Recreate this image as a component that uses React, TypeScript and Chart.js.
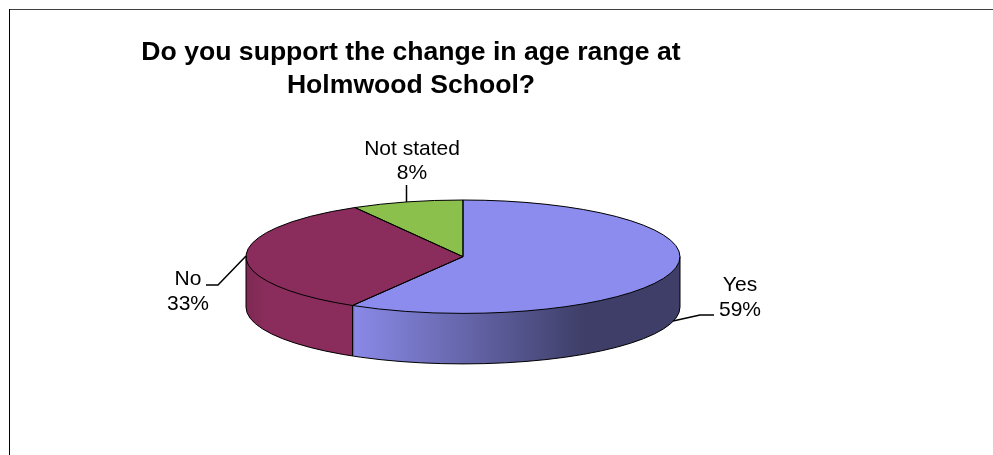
import React, { useEffect, useRef } from "react";
import { Chart, registerables } from "chart.js";

Chart.register(...registerables);

const categories = ["Yes", "No", "Not stated"];
const shares = [58.5, 33.2, 8.3];
const topColors = ["#8C8CEE", "#8A2D5C", "#8AC04B"];
const titleLines = ["Do you support the change in age range at", "Holmwood School?"];

const FONT = "'Liberation Sans', Arial, sans-serif";
const CX = 463;
const CY = 256.7;
const RX = 217;
const RY = 56.7;
const DEPTH = 50.5;

const labelBoxes = [
  { x: 740, y1: 285, y2: 310 },
  { x: 188, y1: 279, y2: 304 },
  { x: 412, y1: 149, y2: 173 },
];
const leaders = [
  [[673, 321], [700, 315], [714, 315]],
  [[246, 256], [218, 285], [206, 285]],
  [[406.5, 202], [406.5, 185]],
];

const pie3d = {
  id: "pie3d",
  beforeDraw(chart: any) {
    const { ctx, width, height } = chart;
    ctx.save();
    ctx.fillStyle = "#ffffff";
    ctx.fillRect(0, 0, width, height);
    ctx.fillStyle = "#404040";
    ctx.fillRect(9, 9, width - 9, 1);
    ctx.fillStyle = "#000000";
    ctx.fillRect(9, 9, 1, height - 9);
    ctx.restore();
  },
  beforeDatasetsDraw(chart: any) {
    const { ctx } = chart;
    const arcs = chart.getDatasetMeta(0).data;
    const { x, y, outerRadius } = arcs[0].getProps(["x", "y", "outerRadius"], true);
    const sx = RX / outerRadius;
    const sy = RY / outerRadius;
    ctx.save();
    ctx.translate(CX, CY);
    ctx.scale(sx, sy);
    ctx.translate(-x, -y);

    const localX = (px: number) => x + (px - CX) / sx;
    const yesWall = ctx.createLinearGradient(localX(353), 0, localX(585), 0);
    yesWall.addColorStop(0, "#8A8AE8");
    yesWall.addColorStop(1, "#3E3E68");
    const noWall = ctx.createLinearGradient(localX(246), 0, localX(266), 0);
    noWall.addColorStop(0, "#7E2953");
    noWall.addColorStop(1, "#8A2D5C");
    const wallFills = [yesWall, noWall, "#6E9A3C"];

    [2, 1, 0].forEach((i) => {
      const arc = arcs[i];
      const saved = arc.options;
      arc.options = { ...saved, backgroundColor: wallFills[i], borderWidth: 0 };
      for (let d = DEPTH; d > 0; d -= 1) {
        ctx.save();
        ctx.translate(0, d / sy);
        arc.draw(ctx);
        ctx.restore();
      }
      arc.options = saved;
    });
  },
  afterDatasetsDraw(chart: any) {
    const { ctx } = chart;
    ctx.restore();
    const arcs = chart.getDatasetMeta(0).data;

    ctx.save();
    ctx.strokeStyle = "#000000";
    ctx.lineWidth = 1;
    ctx.lineJoin = "round";

    // wall outline
    ctx.beginPath();
    ctx.ellipse(CX, CY + DEPTH, RX, RY, 0, 0, Math.PI);
    ctx.moveTo(CX + RX, CY);
    ctx.lineTo(CX + RX, CY + DEPTH);
    ctx.moveTo(CX - RX, CY);
    ctx.lineTo(CX - RX, CY + DEPTH);
    arcs.forEach((arc: any) => {
      const a = arc.getProps(["startAngle"], true).startAngle;
      const n = ((a % (2 * Math.PI)) + 2 * Math.PI) % (2 * Math.PI);
      if (n > 0 && n < Math.PI) {
        const px = CX + RX * Math.cos(n);
        const py = CY + RY * Math.sin(n);
        ctx.moveTo(px, py);
        ctx.lineTo(px, py + DEPTH);
      }
    });
    ctx.stroke();

    // top face outline
    arcs.forEach((arc: any) => {
      const { startAngle, endAngle } = arc.getProps(["startAngle", "endAngle"], true);
      ctx.beginPath();
      ctx.moveTo(CX, CY);
      ctx.ellipse(CX, CY, RX, RY, 0, startAngle, endAngle);
      ctx.closePath();
      ctx.stroke();
    });

    // leader lines
    ctx.lineWidth = 1.5;
    leaders.forEach((pts) => {
      ctx.beginPath();
      pts.forEach(([px, py], k) => (k ? ctx.lineTo(px, py) : ctx.moveTo(px, py)));
      ctx.stroke();
    });

    // labels
    ctx.fillStyle = "#000000";
    ctx.font = `21px ${FONT}`;
    ctx.textAlign = "center";
    ctx.textBaseline = "middle";
    categories.forEach((name, i) => {
      const b = labelBoxes[i];
      ctx.fillText(name, b.x, b.y1);
      ctx.fillText(`${Math.round(shares[i])}%`, b.x, b.y2);
    });
    ctx.restore();
  },
};

export default function App() {
  const ref = useRef<HTMLCanvasElement | null>(null);
  useEffect(() => {
    const chart = new Chart(ref.current as HTMLCanvasElement, {
      type: "pie",
      data: {
        labels: categories,
        datasets: [
          {
            data: shares,
            backgroundColor: topColors,
            borderWidth: 0,
            clip: false,
          } as any,
        ],
      },
      options: {
        responsive: false,
        devicePixelRatio: 1,
        animation: false,
        layout: { padding: { right: 171 } },
        plugins: {
          legend: { display: false },
          tooltip: { enabled: false },
          title: {
            display: true,
            text: titleLines,
            color: "#000000",
            font: { family: FONT, size: 26.6, weight: "bold", lineHeight: 1.24 },
            padding: { top: 36, bottom: 10 },
          },
        },
      },
      plugins: [pie3d],
    });
    return () => chart.destroy();
  }, []);
  return (
    <div style={{ position: "absolute", left: 0, top: 0, width: 993, height: 455 }}>
      <canvas ref={ref} width={993} height={455} style={{ display: "block" }} />
    </div>
  );
}
